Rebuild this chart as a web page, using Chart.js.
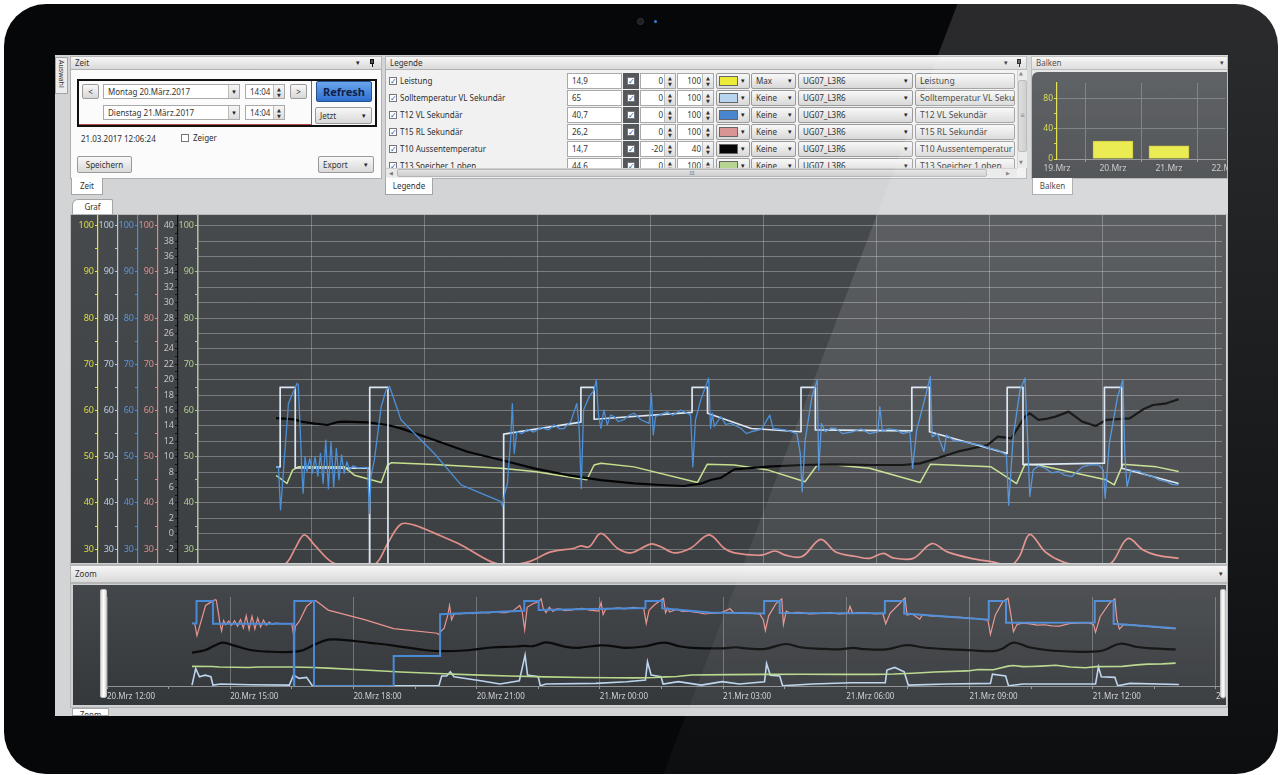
<!DOCTYPE html>
<html lang="de">
<head>
<meta charset="utf-8">
<title>Graf UG07_L3R6</title>
<script src="https://cdn.jsdelivr.net/npm/chart.js@4.4.1/dist/chart.umd.min.js"></script>
<style>
html,body{margin:0;padding:0}
body{width:1282px;height:775px;position:relative;overflow:hidden;background:#fff;
  font-family:'Noto Sans','DejaVu Sans',sans-serif;font-size:8px;color:#2e2e2e}
.a{position:absolute;box-sizing:border-box;white-space:nowrap}
#bezel{left:4px;top:4px;width:1274px;height:770px;background:#060709;border-radius:42px}
#cam{left:637px;top:18px;width:7px;height:7px;border-radius:50%;background:#1c1e21;border:1px solid #35383b}
#camdot{left:654px;top:20px;width:3px;height:3px;border-radius:50%;background:#2d86d9}
#screen{left:55px;top:55px;width:1173px;height:661px;background:#d3d4d5}
.seite{background:#ececec;border:1px solid #a3a3a3;writing-mode:vertical-rl;font-size:7px;line-height:11px;padding-top:2px;color:#333}
.hdr{height:14px;background:linear-gradient(#f6f6f6,#d9d9d9);border:1px solid #b6b6b6;line-height:12px;padding-left:4px;color:#333}
.pf{position:absolute;top:0;font-size:7px;color:#222}
.pin{position:absolute;top:2px;width:4px;height:5px;background:#555;border:1px solid #111;box-sizing:border-box}
.pin:after{content:'';position:absolute;left:1px;top:4px;width:1px;height:3px;background:#111}
.body{background:#fbfbfb;border:1px solid #aeb0b2}
.tab{height:17px;background:#fff;border:1px solid #a5a5a5;border-top:none;line-height:15px;text-align:center;color:#333;overflow:hidden}
.btn{background:linear-gradient(#f8f8f8,#d8d8d8);border:1px solid #9a9a9a;border-radius:2px;line-height:13px;padding-left:4px;color:#333}
.fld{background:#fff;border:1px solid #a9a9a9;line-height:13px;padding-left:4px;color:#333}
.dd{position:absolute;right:0;top:0;bottom:0;width:10px;border-left:1px solid #bdbdbd;background:linear-gradient(#f6f6f6,#dcdcdc);text-align:center;font-size:7px;line-height:13px;color:#222;padding:0}
.sp{position:absolute;right:0;top:0;bottom:0;width:10px;border-left:1px solid #bdbdbd;background:linear-gradient(#f6f6f6,#dcdcdc);font-size:5px;line-height:6px;text-align:center;color:#333;padding-top:1px}
.cb{width:8px;height:8px;background:#fff;border:1px solid #777;font-size:8px;line-height:6px;text-align:center;color:#2c56b8;font-weight:bold;overflow:hidden}
.dunkel{background:linear-gradient(#474a4d,#3d4043)}
#refresh{background:linear-gradient(#6aa6ec,#2f6fcf);border:1px solid #24508f;border-radius:2px;font-weight:bold;font-size:11px;line-height:19px;text-align:center;color:#10224a}
#graftab{background:#fff;border:1px solid #a5a5a5;border-bottom:none;border-radius:6px 2px 0 0;line-height:14px;text-align:center;color:#333}
.griff{background:linear-gradient(90deg,#d9d9d9,#ffffff 50%,#dcdcdc);border-radius:2px;border:1px solid #bcbcbc}
#glanz{left:0;top:0;width:1282px;height:775px;pointer-events:none;
  clip-path:polygon(959px 0,1282px 0,1282px 775px,663px 775px);
  background:linear-gradient(rgba(255,255,255,0.15),rgba(255,255,255,0.03))}
</style>
</head>
<body>
<div class="a" id="bezel"></div>
<div class="a" id="cam"></div>
<div class="a" id="camdot"></div>
<div class="a" id="screen"></div>

<div class="a seite" style="left:55px;top:57px;width:13px;height:37px">Auswahl</div>

<!-- Zeit -->
<div class="a hdr" style="left:70px;top:56px;width:312px">Zeit<span class="pf" style="left:285px">▾</span><span class="pin" style="left:299px"></span></div>
<div class="a body" style="left:70px;top:69px;width:312px;height:110px"></div>
<div class="a" style="left:77px;top:79px;width:300px;height:48px;border:2px solid #111"></div>
<div class="a" style="left:79px;top:81px;width:233px;height:44px;border-right:1px solid #b44b4b;border-bottom:1px solid #b44b4b"></div>
<div class="a btn" style="left:82px;top:84px;width:17px;height:15px;padding:0;text-align:center">&lt;</div>
<div class="a fld" style="left:103px;top:84px;width:137px;height:15px">Montag 20.März.2017<div class="dd">▾</div></div>
<div class="a fld" style="left:245px;top:84px;width:40px;height:15px">14:04<div class="sp">▲<br>▼</div></div>
<div class="a btn" style="left:290px;top:84px;width:17px;height:15px;padding:0;text-align:center">&gt;</div>
<div class="a" id="refresh" style="left:316px;top:81px;width:56px;height:21px">Refresh</div>
<div class="a fld" style="left:103px;top:105px;width:137px;height:15px">Dienstag 21.März.2017<div class="dd">▾</div></div>
<div class="a fld" style="left:245px;top:105px;width:40px;height:15px">14:04<div class="sp">▲<br>▼</div></div>
<div class="a btn" style="left:315px;top:107px;width:57px;height:17px;line-height:15px">Jetzt<span class="pf" style="left:46px;line-height:15px">▾</span></div>
<div class="a" style="left:81px;top:133px;line-height:12px">21.03.2017 12:06:24</div>
<div class="a cb" style="left:181px;top:134px"></div>
<div class="a" style="left:193px;top:132px;line-height:12px">Zeiger</div>
<div class="a btn" style="left:77px;top:156px;width:55px;height:17px;line-height:15px;text-align:center;padding:0">Speichern</div>
<div class="a btn" style="left:318px;top:156px;width:56px;height:17px;line-height:15px">Export<span class="pf" style="left:45px;line-height:15px">▾</span></div>
<div class="a tab" style="left:71px;top:178px;width:32px">Zeit</div>

<!-- Legende -->
<div class="a hdr" style="left:385px;top:56px;width:642px">Legende<span class="pf" style="left:618px">▾</span><span class="pin" style="left:631px"></span></div>
<div class="a body" style="left:385px;top:69px;width:642px;height:110px;background:#f1f1f1"></div>
<div class="a" id="legRows" style="left:386px;top:70px;width:630px;height:98px;overflow:hidden"></div>
<div class="a" style="left:1017px;top:70px;width:10px;height:98px;background:#e9e9e9;border-left:1px solid #cfcfcf">
  <div class="a" style="left:1px;top:0;font-size:5px;color:#777">▲</div>
  <div class="a" style="left:0;top:10px;width:9px;height:72px;background:linear-gradient(90deg,#dadada,#c9c9c9);border:1px solid #b3b3b3;border-radius:2px;font-size:6px;line-height:68px;text-align:center;color:#777">≡</div>
  <div class="a" style="left:1px;top:89px;font-size:5px;color:#777">▼</div>
</div>
<div class="a" style="left:386px;top:168px;width:631px;height:9px;background:#e9e9e9;border-top:1px solid #cfcfcf">
  <div class="a" style="left:3px;top:0;font-size:5px;line-height:8px;color:#777">◀</div>
  <div class="a" style="left:11px;top:0;width:590px;height:8px;background:linear-gradient(#e3e3e3,#cdcdcd);border:1px solid #b6b6b6;border-radius:2px;font-size:5px;line-height:6px;text-align:center;color:#777;padding-left:0">III</div>
  <div class="a" style="left:620px;top:0;font-size:5px;line-height:8px;color:#777">▶</div>
</div>
<div class="a tab" style="left:385px;top:178px;width:48px">Legende</div>

<!-- Balken -->
<div class="a hdr" style="left:1031px;top:56px;width:197px">Balken<span class="pf" style="left:188px">▾</span></div>
<div class="a body" style="left:1031px;top:69px;width:197px;height:110px;background:#e4e4e4"></div>
<div class="a dunkel" style="left:1032px;top:72px;width:195px;height:106px;border-radius:6px 0 0 0;overflow:hidden"><canvas id="balken" width="195" height="106"></canvas></div>
<div class="a tab" style="left:1032px;top:178px;width:41px">Balken</div>

<!-- Graf -->
<div class="a" id="graftab" style="left:72px;top:199px;width:41px;height:16px">Graf</div>
<div class="a" style="left:70px;top:214px;width:1158px;height:351px;background:#cfd0d1;border:1px solid #b5b7b9"></div>
<div class="a dunkel" style="left:71px;top:215px;width:1155px;height:348px"><canvas id="graf" width="1155" height="348"></canvas></div>

<!-- Zoom -->
<div class="a hdr" style="left:70px;top:565px;width:1158px;height:18px;line-height:16px">Zoom<span class="pf" style="left:1148px;line-height:16px">▾</span></div>
<div class="a" style="left:70px;top:583px;width:1158px;height:125px;background:#cfd0d1;border:1px solid #b3b5b7"></div>
<div class="a" style="left:73px;top:585px;width:1153px;height:120px;background:linear-gradient(#43464a,#35383b)"><canvas id="zoom" width="1153" height="120"></canvas></div>
<div class="a griff" style="left:100px;top:589px;width:7px;height:109px"></div>
<div class="a griff" style="left:1220px;top:589px;width:6px;height:109px"></div>
<div class="a tab" style="left:72px;top:708px;width:37px;height:8px;border-top:1px solid #a5a5a5;line-height:12px">Zoom</div>

<div class="a" id="glanz"></div>

<script>
// Zeit in Stunden ab 20.Mrz 12:00, Werte in den Einheiten der Legende
const leistung = [[2.07,0.7],[2.16,13.4],[2.25,7.1],[2.39,8.3],[2.53,7.1],[2.58,0.7],[2.77,1.5],[3.5,1.0],[4.44,0.7],[4.54,8.3],[4.68,5.8],[4.86,6.6],[5.0,0.2],[6.5,0.2],[8.08,0.2],[8.15,7.6],[8.27,7.6],[8.36,10.9],[8.45,7.1],[9.1,4.0],[9.57,1.5],[10.04,4.0],[10.18,23.6],[10.24,8.3],[10.5,7.1],[10.55,0.2],[10.69,1.5],[11.9,2.0],[12.65,3.3],[13.11,4.5],[13.16,18.5],[13.25,8.3],[13.49,7.1],[13.54,1.5],[13.91,3.3],[14.47,0.7],[14.98,3.3],[15.4,1.5],[16.01,3.3],[16.06,17.2],[16.15,8.3],[16.38,7.6],[16.45,0.2],[17.18,1.5],[18.11,2.5],[18.95,2.5],[18.99,12.2],[19.18,14.2],[19.41,10.9],[19.51,0.7],[20.44,1.5],[21.51,2.0],[21.56,9.1],[21.88,7.6],[21.95,0.2],[22.3,1.5],[24.07,1.5],[24.14,14.7],[24.21,7.1],[24.54,6.6],[24.61,0.2],[24.91,2.0],[26.1,1.2]];

const sollwert = [[2.07,47.8],[2.18,47.8],[2.18,65],[2.58,65],[2.58,47.6],[4.55,47.5],[4.55,0],[4.56,0],[4.56,65],[5.04,65],[5.04,0],[6.98,0],[6.98,23],[8.11,23],[8.11,54.9],[10.16,57.5],[10.16,65],[10.51,65],[10.51,58.1],[13.11,59.6],[13.11,65],[13.52,65],[13.52,59.4],[14.68,56.1],[16.0,55.4],[16.0,65],[16.38,65],[16.38,55.8],[18.94,55.6],[18.94,65],[19.41,65],[19.41,55.4],[21.47,50.7],[21.47,65],[21.89,65],[21.89,48.3],[24.05,48.6],[24.05,65],[24.51,65],[24.51,47.5],[26.02,44.2]];

const vorlauf = [[2.07,47.8],[2.135,47.8],[2.19,38.5],[2.25,45.0],[2.4,61.5],[2.51,63.7],[2.63,65.9],[2.66,65.5],[2.72,54.3],[2.75,47.8],[2.79,42.1],[2.84,50.0],[2.89,46.8],[2.965,49.6],[3.035,46.4],[3.105,49.9],[3.18,45.8],[3.25,50.7],[3.32,44.2],[3.39,53.6],[3.46,43.1],[3.53,53.2],[3.6,43.5],[3.67,51.8],[3.74,45.0],[3.81,50.4],[3.88,46.4],[3.95,48.9],[4.02,47.1],[4.11,48.0],[4.24,47.6],[4.5,47.7],[4.55,37.7],[4.59,45.7],[4.68,49.3],[4.86,60.8],[4.99,64.4],[5.08,65.2],[5.16,63.4],[5.385,58.0],[6.27,50.7],[6.98,43.9],[8.04,40.3],[8.08,39.2],[8.14,42.1],[8.21,44.2],[8.3,54.3],[8.34,61.5],[8.39,50.7],[8.46,55.4],[8.6,55.0],[8.74,55.9],[8.9,55.3],[9.1,56.3],[9.3,55.8],[9.45,56.9],[9.6,56.0],[9.71,56.1],[9.89,57.6],[10.05,61.5],[10.11,56.5],[10.17,43.1],[10.23,60.1],[10.38,63.0],[10.51,64.4],[10.57,66.6],[10.62,59.4],[10.69,56.1],[10.77,60.1],[10.86,56.9],[10.95,59.0],[11.04,58.7],[11.15,57.6],[11.3,58.0],[11.45,59.0],[11.57,59.4],[11.75,58.0],[11.97,57.2],[12.03,63.7],[12.08,54.7],[12.14,58.7],[12.3,59.2],[12.45,59.7],[12.6,59.0],[12.81,60.1],[13.07,59.0],[13.13,47.8],[13.2,58.0],[13.34,62.3],[13.5,65.9],[13.55,67.0],[13.6,56.1],[13.65,59.4],[13.7,56.5],[13.87,58.7],[14.0,57.0],[14.14,57.2],[14.41,56.1],[14.55,55.0],[14.68,55.4],[14.95,55.9],[15.17,59.0],[15.26,56.1],[15.58,55.8],[15.89,55.0],[15.98,50.7],[16.03,42.4],[16.11,53.6],[16.29,63.0],[16.43,66.6],[16.47,47.1],[16.54,57.2],[16.65,55.4],[16.8,56.2],[16.92,56.1],[17.1,55.0],[17.37,55.4],[17.6,56.0],[17.82,55.0],[18.04,55.4],[18.09,60.8],[18.16,55.4],[18.3,56.0],[18.53,55.8],[18.7,55.0],[18.89,55.4],[18.96,47.5],[19.07,55.8],[19.3,63.0],[19.43,67.3],[19.48,54.3],[19.61,55.0],[19.79,51.1],[19.86,54.7],[20.05,53.5],[20.33,53.2],[20.55,52.8],[20.77,52.5],[21.0,51.8],[21.22,51.4],[21.45,50.4],[21.51,39.5],[21.63,54.3],[21.81,64.4],[21.94,67.0],[22.01,54.3],[22.07,41.4],[22.16,47.1],[22.3,48.0],[22.48,47.5],[22.65,46.5],[22.83,46.8],[23.0,46.0],[23.19,45.7],[23.46,47.8],[23.7,48.3],[23.91,48.2],[24.02,47.1],[24.07,41.0],[24.18,52.9],[24.4,63.0],[24.54,66.6],[24.59,50.7],[24.65,43.5],[24.76,47.1],[24.99,46.8],[25.15,46.0],[25.34,45.7],[25.5,45.0],[25.7,44.6],[25.85,44.0],[26.02,43.9]];

const ruecklauf = [[2.07,25.5],[2.38,27.3],[2.6,30.5],[2.82,33.1],[3.1,30.8],[3.53,27.3],[3.9,26.3],[4.5,26.0],[4.77,27.3],[5.05,31.5],[5.385,35.4],[5.74,35.2],[6.4,33.0],[6.98,30.9],[7.77,27.3],[8.2,26.6],[8.79,27.3],[9.36,29.4],[9.98,30.2],[10.16,30.7],[10.38,30.5],[10.69,33.4],[11.13,30.2],[11.48,29.2],[12.01,31.1],[12.28,30.5],[12.63,29.2],[13.07,30.2],[13.56,33.1],[13.96,30.2],[14.23,29.2],[14.95,28.7],[15.31,29.6],[15.58,28.7],[16.03,28.4],[16.52,32.1],[16.92,29.4],[17.46,28.4],[17.82,28.0],[18.18,29.1],[18.44,28.1],[18.98,28.0],[19.47,31.2],[19.88,29.4],[20.51,28.0],[21.04,27.3],[21.58,26.6],[21.8,28.5],[22.07,33.2],[22.48,29.4],[22.93,27.3],[23.5,26.3],[24.0,26.2],[24.27,27.3],[24.67,32.3],[25.08,29.8],[25.43,28.7],[26.02,28.0]];

const aussen = [[2.07,15.0],[2.56,14.85],[2.735,14.55],[3.1,14.3],[3.44,14.12],[3.7,14.5],[3.88,14.55],[4.5,14.46],[5.03,14.12],[5.385,13.68],[6.27,12.17],[7.15,10.65],[8.04,9.57],[8.92,8.49],[9.8,7.62],[10.69,6.97],[11.57,6.54],[12.28,6.33],[12.89,6.2],[13.34,6.5],[13.6,6.97],[13.87,7.25],[14.23,8.36],[15.13,8.71],[16.03,8.92],[16.92,9.01],[17.82,8.92],[18.71,8.92],[19.16,9.14],[19.61,9.79],[20.15,10.65],[20.95,11.52],[21.22,12.6],[21.58,12.39],[21.94,15.2],[22.07,15.63],[22.3,14.77],[22.5,14.9],[22.75,15.2],[23.1,15.85],[23.46,14.55],[23.82,13.99],[24.09,14.77],[24.72,14.98],[25.08,16.15],[25.34,16.71],[25.7,16.93],[26.02,17.45]];

const speicher = [[2.07,45.9],[2.12,45.7],[2.36,44.2],[2.51,47.1],[2.66,47.8],[3.88,47.8],[4.15,46.0],[4.86,44.4],[5.03,48.2],[5.14,48.7],[6.27,48.3],[8.04,47.5],[8.92,46.8],[10.315,45.0],[10.51,48.2],[10.69,48.6],[11.57,47.8],[13.25,44.4],[13.51,48.35],[14.23,48.2],[15.13,47.1],[16.11,44.6],[16.43,48.2],[16.92,48.2],[17.82,47.5],[19.16,44.4],[19.43,48.35],[21.04,47.8],[21.31,46.4],[21.72,44.2],[21.94,48.35],[22.3,48.2],[24.09,45.0],[24.31,43.9],[24.54,48.35],[25.43,47.8],[26.02,46.8]];

// Legende
const legNamen = ['Leistung', 'Solltemperatur VL Sekundär', 'T12 VL Sekundär', 'T15 RL Sekundär', 'T10 Aussentemperatur', 'T13 Speicher 1 oben'];
const legWerte = ['14,9', '65', '40,7', '26,2', '14,7', '44,6'];
const legMin = [0, 0, 0, 0, -20, 0];
const legMax = [100, 100, 100, 100, 40, 100];
const legFarben = ['#ecec38', '#b9d4ef', '#4a86cf', '#d99593', '#050505', '#b7d490'];
const legModus = ['Max', 'Keine', 'Keine', 'Keine', 'Keine', 'Keine'];
const legQuelle = 'UG07_L3R6';

// Balken
const balkenTage = ['19.Mrz', '20.Mrz', '21.Mrz', '22.Mrz'];
const balkenWerte = [null, 24, 17.7, null];

const rows = document.getElementById('legRows');
legNamen.forEach((name, i) => {
    const r = document.createElement('div');
    r.className = 'a';
    r.style.cssText = `left:0;top:${3 + 17 * i}px;width:630px;height:16px`;
    r.innerHTML =
        `<div class="a cb" style="left:3px;top:4px">✓</div>` +
        `<div class="a" style="left:14px;top:0;line-height:16px">${name}</div>` +
        `<div class="a fld" style="left:181px;top:0;width:55px;height:16px;line-height:14px">${legWerte[i]}</div>` +
        `<div class="a" style="left:237px;top:0;width:16px;height:16px;background:#55585b"><div class="a cb" style="left:4px;top:4px">✓</div></div>` +
        `<div class="a fld" style="left:254px;top:0;width:36px;height:16px;line-height:14px;padding:0 12px 0 0;text-align:right">${legMin[i]}<div class="sp">▲<br>▼</div></div>` +
        `<div class="a fld" style="left:291px;top:0;width:37px;height:16px;line-height:14px;padding:0 12px 0 0;text-align:right">${legMax[i]}<div class="sp">▲<br>▼</div></div>` +
        `<div class="a btn" style="left:330px;top:0;width:34px;height:16px;padding:0"><div class="a" style="left:2px;top:2px;width:19px;height:10px;background:${legFarben[i]};border:1px solid #666"></div><span class="pf" style="left:24px;line-height:14px">▾</span></div>` +
        `<div class="a btn" style="left:365px;top:0;width:45px;height:16px;line-height:14px">${legModus[i]}<span class="pf" style="left:36px;line-height:14px">▾</span></div>` +
        `<div class="a btn" style="left:412px;top:0;width:115px;height:16px;line-height:14px">${legQuelle}<span class="pf" style="left:105px;line-height:14px">▾</span></div>` +
        `<div class="a btn" style="left:529px;top:0;width:100px;height:16px;line-height:14px;overflow:hidden;font-size:8.6px">${name}</div>`;
    rows.appendChild(r);
});

Chart.defaults.font.family = "'Noto Sans', 'DejaVu Sans', sans-serif";
Chart.defaults.font.size = 9;
Chart.defaults.animation = false;

const pts = a => a.map(p => ({ x: p[0], y: p[1] }));
const reihe = (von, bis, w) => {
    const r = [];
    for (let v = von; v <= bis + 1e-9; v += w) r.push({ value: Math.round(v * 100) / 100 });
    return r;
};
// Achsen sollen keinen Rand fuer ueberstehende Beschriftung reservieren
const ohneRand = s => { s.paddingLeft = 0; s.paddingRight = 0; s.paddingTop = 0; s.paddingBottom = 0; };

function prozentAchse(linie, text, gewicht, breite) {
    return {
        type: 'linear', position: 'left', weight: gewicht, min: 27, max: 102.3,
        afterBuildTicks: s => { s.ticks = reihe(30, 100, 5); },
        afterFit: s => { s.width = breite; ohneRand(s); },
        ticks: { color: text, padding: 1, autoSkip: false, callback: v => v % 10 === 0 ? v : '' },
        grid: { drawOnChartArea: false, tickLength: 3, tickColor: linie },
        border: { color: linie, width: 1.2 }
    };
}

const gitter = 'rgba(205,208,211,0.40)';

new Chart(document.getElementById('graf'), {
    type: 'line',
    data: {
        datasets: [
            { label: 'T12 VL Sekundär', data: pts(vorlauf), yAxisID: 'yT12', borderColor: '#4b8fd8', borderWidth: 1.3 },
            { label: 'Solltemperatur VL Sekundär', data: pts(sollwert), yAxisID: 'ySoll', borderColor: '#dbe6f3', borderWidth: 1.7 },
            { label: 'T10 Aussentemperatur', data: pts(aussen), yAxisID: 'yT10', borderColor: '#050505', borderWidth: 2.2 },
            { label: 'T13 Speicher 1 oben', data: pts(speicher), yAxisID: 'yT13', borderColor: '#c7e08e', borderWidth: 1.5 },
            { label: 'T15 RL Sekundär', data: pts(ruecklauf), yAxisID: 'yT15', borderColor: '#e28f8b', borderWidth: 1.7, tension: 0.35 },
            { label: 'Leistung', data: pts(leistung), yAxisID: 'yLeist', borderColor: '#e6e63a', borderWidth: 1.5 }
        ]
    },
    options: {
        responsive: false,
        layout: { padding: { left: 0, right: 4, top: 0, bottom: 0 }, autoPadding: false },
        elements: { point: { radius: 0 }, line: { borderJoinStyle: 'round' } },
        plugins: { legend: { display: false }, tooltip: { enabled: false } },
        scales: {
            x: {
                type: 'linear', min: 0, max: 27.17,
                afterBuildTicks: s => { s.ticks = reihe(0, 27, 3); },
                afterFit: ohneRand,
                ticks: { display: false },
                grid: { color: 'rgba(205,208,211,0.36)', drawTicks: false },
                border: { display: false }
            },
            yLeist: prozentAchse('#e3e33b', '#dcdc40', 6, 27),
            ySoll: prozentAchse('#b3c9e0', '#bccfe3', 5, 20),
            yT12: prozentAchse('#4f8fd8', '#5b94d8', 4, 20),
            yT15: prozentAchse('#d98c89', '#d88f8c', 3, 20),
            yT10: {
                type: 'linear', position: 'left', weight: 2, min: -3.8, max: 41.38,
                afterBuildTicks: s => { s.ticks = reihe(-2, 40, 1); },
                afterFit: s => { s.width = 20; ohneRand(s); },
                ticks: { color: '#c2c2c2', padding: 1, autoSkip: false, callback: v => v % 2 === 0 ? v : '' },
                grid: { tickLength: 3, tickColor: '#111', color: c => c.tick && c.tick.value % 2 === 0 ? gitter : 'rgba(0,0,0,0)' },
                border: { color: '#0c0c0c', width: 1.2 }
            },
            yT13: prozentAchse('#a9c58a', '#b3cf90', 1, 20)
        }
    }
});

const zeitText = v => {
    const h = 12 + v;
    const tag = h >= 24 ? '21' : '20';
    return tag + '.Mrz ' + String(h % 24).padStart(2, '0') + ':00';
};
const istVoll = v => Math.abs(v / 3 - Math.round(v / 3)) < 1e-6;

new Chart(document.getElementById('zoom'), {
    type: 'line',
    data: {
        datasets: [
            { data: pts(sollwert), borderColor: '#4a8ad6', borderWidth: 2 },
            { data: pts(vorlauf), borderColor: '#e8948f', borderWidth: 1.2 },
            { data: pts(ruecklauf), borderColor: '#0b0b0b', borderWidth: 2.2, tension: 0.4 },
            { data: pts(aussen), borderColor: '#b8d88c', borderWidth: 1.6 },
            { data: pts(leistung), borderColor: '#bcd4ee', borderWidth: 1.6 }
        ]
    },
    options: {
        responsive: false,
        layout: { padding: { left: 34, right: 6, top: 12, bottom: 0 }, autoPadding: false },
        elements: { point: { radius: 0 } },
        plugins: { legend: { display: false }, tooltip: { enabled: false } },
        scales: {
            x: {
                type: 'linear', min: 0, max: 27.1,
                afterBuildTicks: s => { s.ticks = reihe(0, 27, 1.5); },
                afterFit: s => { s.height = 19; ohneRand(s); },
                ticks: { color: '#cfcfcf', font: { size: 8 }, padding: 3, align: 'start', autoSkip: false, maxRotation: 0,
                         callback: v => istVoll(v) ? zeitText(v) : '' },
                grid: { tickLength: 3, tickColor: '#9a9a9a', color: c => c.tick && istVoll(c.tick.value) ? 'rgba(200,203,206,0.38)' : 'rgba(0,0,0,0)' },
                border: { color: '#8e9092' }
            },
            y: { display: false, min: 0, max: 68 }
        }
    }
});

new Chart(document.getElementById('balken'), {
    type: 'bar',
    data: {
        labels: balkenTage,
        datasets: [{ data: balkenWerte, backgroundColor: '#e9e93c', borderColor: '#c9c925', borderWidth: 1, barThickness: 40 }]
    },
    options: {
        responsive: false,
        layout: { padding: { left: 0, right: 2, top: 11, bottom: 0 }, autoPadding: false },
        plugins: { legend: { display: false }, tooltip: { enabled: false } },
        scales: {
            x: {
                offset: false,
                afterFit: s => { s.height = 19; ohneRand(s); },
                ticks: { color: '#c4c4c4', font: { size: 8.5 }, padding: 1, autoSkip: false, maxRotation: 0 },
                grid: { color: '#6f7275', tickLength: 3, tickColor: '#8d8d8d' },
                border: { color: '#8d8d8d' }
            },
            y: {
                min: 0, max: 101.3,
                afterBuildTicks: s => { s.ticks = reihe(0, 80, 20); },
                afterFit: s => { s.width = 25; ohneRand(s); },
                ticks: { color: '#d6d640', font: { size: 8.5 }, padding: 1, callback: v => v % 40 === 0 ? v : '' },
                grid: { tickLength: 3, tickColor: '#d6d63a', color: c => c.tick && c.tick.value > 0 && c.tick.value % 40 === 0 ? '#6f7275' : 'rgba(0,0,0,0)' },
                border: { color: '#e0e03a', width: 1.2 }
            }
        }
    }
});
</script>
</body>
</html>
